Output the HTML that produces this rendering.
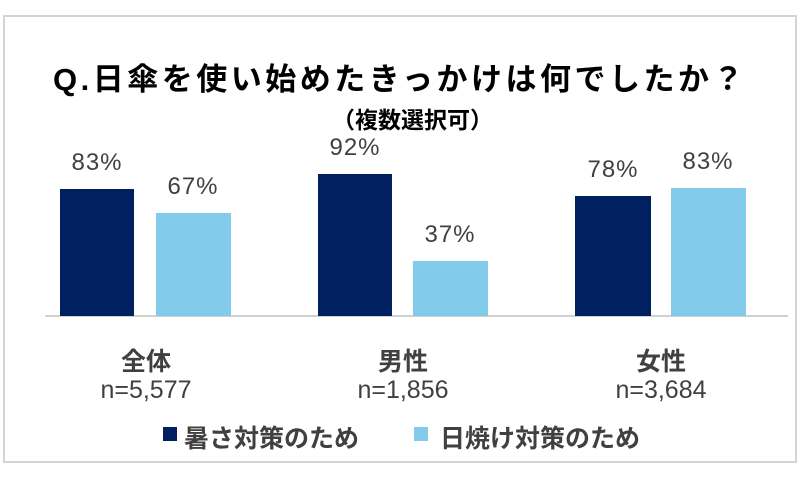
<!DOCTYPE html>
<html><head><meta charset="utf-8"><style>
body{margin:0;width:800px;height:478px;background:#fff;position:relative;overflow:hidden;font-family:"Liberation Sans","Noto Sans CJK JP",sans-serif;color:#404040}
.frame{position:absolute;left:3px;top:15px;width:790px;height:444px;border:2px solid #d4d4d4;box-sizing:content-box}
.a{position:absolute;white-space:nowrap}
.bar{position:absolute}
.d{background:#002060}.l{background:#83cbeb}
.v{position:absolute;font-size:24px;width:100px;text-align:center;color:#404040;letter-spacing:1px}
.c{position:absolute;width:200px;text-align:center;font-size:25px}
</style></head><body>
<div class="frame"></div>
<div class="a" style="left:0;width:800px;text-align:center;top:54px;font-size:31px;font-weight:bold;letter-spacing:3.5px;color:#000">Q.日傘を使い始めたきっかけは何でしたか？</div>
<div class="a" style="left:332px;top:101px;font-size:23px;font-weight:bold;color:#000">（複数選択可）</div>
<div class="a" style="left:45px;top:315px;width:743px;height:2px;background:#d0d0d0"></div>
<div class="bar d" style="left:60px;top:189px;width:74px;height:127px"></div>
<div class="bar l" style="left:156px;top:213px;width:75px;height:103px"></div>
<div class="bar d" style="left:318px;top:174px;width:74px;height:142px"></div>
<div class="bar l" style="left:413px;top:261px;width:75px;height:55px"></div>
<div class="bar d" style="left:575px;top:196px;width:76px;height:120px"></div>
<div class="bar l" style="left:671px;top:188px;width:75px;height:128px"></div>
<div class="v" style="left:47px;top:149px">83%</div>
<div class="v" style="left:143px;top:173px">67%</div>
<div class="v" style="left:305px;top:134px">92%</div>
<div class="v" style="left:400px;top:221px">37%</div>
<div class="v" style="left:563px;top:156px">78%</div>
<div class="v" style="left:658px;top:148px">83%</div>
<div class="c" style="left:46px;top:342px;font-weight:bold">全体</div>
<div class="c" style="left:46px;top:376px">n=5,577</div>
<div class="c" style="left:303px;top:342px;font-weight:bold">男性</div>
<div class="c" style="left:303px;top:376px">n=1,856</div>
<div class="c" style="left:561px;top:342px;font-weight:bold">女性</div>
<div class="c" style="left:561px;top:376px">n=3,684</div>
<div class="bar d" style="left:163px;top:427px;width:14px;height:14px"></div>
<div class="a" style="left:184px;top:419px;font-size:25px;font-weight:bold">暑さ対策のため</div>
<div class="bar l" style="left:414px;top:427px;width:14px;height:14px"></div>
<div class="a" style="left:440px;top:419px;font-size:25px;font-weight:bold">日焼け対策のため</div>
</body></html>
